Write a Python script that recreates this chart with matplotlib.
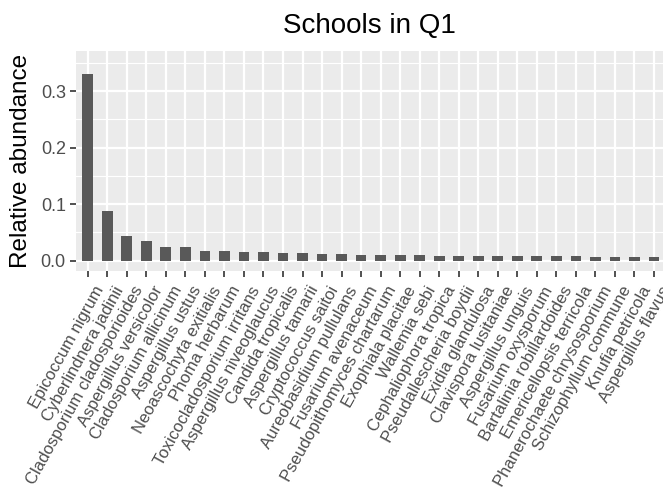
import matplotlib
matplotlib.use("Agg")
import matplotlib.pyplot as plt
from matplotlib.ticker import MultipleLocator
from matplotlib.transforms import ScaledTranslation
import numpy as np

plt.rcParams['font.family'] = ['Liberation Sans', 'DejaVu Sans']

species = [
    "Epicoccum nigrum", "Cyberlindnera jadinii", "Cladosporium cladosporioides",
    "Aspergillus versicolor", "Cladosporium allicinum", "Aspergillus ustus",
    "Neoascochyta exitialis", "Phoma herbarum", "Toxicocladosporium irritans",
    "Aspergillus niveoglaucus", "Candida tropicalis", "Aspergillus tamarii",
    "Cryptococcus saitoi", "Aureobasidium pullulans", "Fusarium avenaceum",
    "Pseudopithomyces chartarum", "Exophiala placitae", "Wallemia sebi",
    "Cephaliophora tropica", "Pseudallescheria boydii", "Exidia glandulosa",
    "Clavispora lusitaniae", "Aspergillus unguis", "Fusarium oxysporum",
    "Bartalinia robillardoides", "Emericellopsis terricola",
    "Phanerochaete chrysosporium", "Schizophyllum commune", "Knufia petricola",
    "Aspergillus flavus",
]
abundance = [
    0.331, 0.0886, 0.0443, 0.0354, 0.0248, 0.0248, 0.0177, 0.0177, 0.016,
    0.015, 0.014, 0.014, 0.0125, 0.0115, 0.0105, 0.0105, 0.0105, 0.0095,
    0.009, 0.009, 0.0078, 0.0078, 0.0078, 0.0078, 0.0078, 0.0078,
    0.0065, 0.0065, 0.0065, 0.0065,
]
y_ticks = [0.0, 0.1, 0.2, 0.3]
y_tick_labels = ["0.0", "0.1", "0.2", "0.3"]

W, H = 663, 500
fig = plt.figure(figsize=(W / 100, H / 100), dpi=100)
fig.patch.set_facecolor("white")

# panel in pixel coordinates
px_left, px_right, px_top, px_bottom = 76, 665.7, 50.7, 270.7
ax = fig.add_axes([px_left / W, 1 - px_bottom / H,
                   (px_right - px_left) / W, (px_bottom - px_top) / H])
ax.set_facecolor("#EBEBEB")

x = np.arange(len(species))
ax.bar(x, abundance, width=0.55, color="#595959", zorder=3)

ax.set_xlim(-0.6, len(species) - 1 + 0.6)
ax.set_ylim(-0.0177, 0.3717)

ax.set_yticks(y_ticks)
ax.set_yticklabels(y_tick_labels)
ax.yaxis.set_minor_locator(MultipleLocator(0.05))
ax.set_xticks(x)

ax.grid(which="major", color="white", linewidth=1.6, zorder=0)
ax.grid(which="minor", axis="y", color="white", linewidth=0.8, zorder=0)
ax.set_axisbelow(True)

for s in ax.spines.values():
    s.set_visible(False)

ax.tick_params(axis="both", which="major", length=4.3, width=1.2,
               color="#333333", labelcolor="#4D4D4D")
ax.tick_params(axis="y", labelsize=13, pad=3)
ax.tick_params(axis="x", labelsize=12, pad=5)
ax.tick_params(axis="both", which="minor", length=0)

ax.set_xticklabels(species, rotation=61, ha="right", va="top",
                   rotation_mode="anchor")
# nudge the slanted species names a little to the right of their ticks
shift = ScaledTranslation(6 / 100, 0, fig.dpi_scale_trans)
for lab in ax.get_xticklabels():
    lab.set_transform(lab.get_transform() + shift)

fig.text(369.5 / W, 1 - 33 / H, "Schools in Q1", ha="center",
         va="baseline", fontsize=20, color="black")
fig.text(21 / W, 1 - 160.7 / H, "Relative abundance", ha="center",
         va="center", rotation=90, fontsize=17.5, color="black")

fig.savefig("out.png", dpi=100)
